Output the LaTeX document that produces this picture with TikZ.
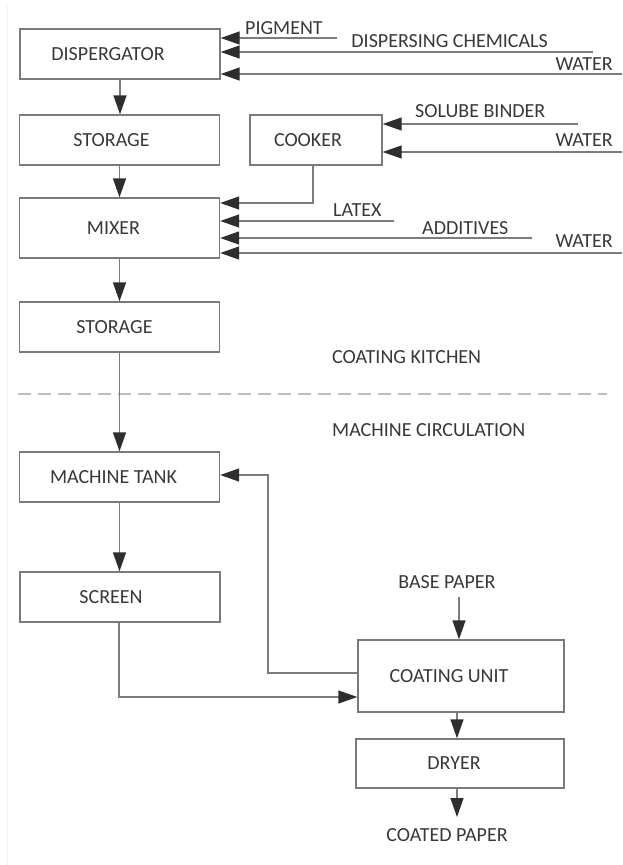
\documentclass[tikz,border=0pt]{standalone}
\usepackage{fontspec}
\setmainfont{Carlito}
\usetikzlibrary{arrows.meta}
\definecolor{linec}{HTML}{7C7C7C}
\definecolor{boxc}{HTML}{7A7A7A}
\definecolor{tipc}{HTML}{2E2E2E}
\definecolor{textc}{HTML}{383838}
\definecolor{dashc}{HTML}{BDBDBD}
\newcommand\shl[2]{\hspace*{-#1}#2}
\tikzset{
  box/.style={draw=boxc, line width=1.4pt, rectangle, inner sep=0pt, text=textc,
    font=\fontsize{20}{24}\selectfont},
  lbl/.style={inner sep=0pt, text=textc, font=\fontsize{20}{24}\selectfont},
  flow/.style={draw=linec, line width=1.4pt, -{Triangle[length=19pt,width=13pt,color=tipc]}},
}
\begin{document}
\begin{tikzpicture}[x=1pt,y=-1pt]
\useasboundingbox (0,0) rectangle (622,865);
\draw[gray!12, line width=1pt] (7,5) -- (7,865);

% boxes
\node[box, minimum width=200pt, minimum height=50pt] (disp) at (120,54) {\shl{24pt}{DISPERGATOR}};
\node[box, minimum width=200pt, minimum height=50pt] (stor1) at (119.5,140) {\shl{16pt}{STORAGE}};
\node[box, minimum width=132pt, minimum height=50pt] (cook) at (316,140) {\shl{16pt}{COOKER}};
\node[box, minimum width=200pt, minimum height=60pt] (mixer) at (119.5,228) {\shl{12pt}{MIXER}};
\node[box, minimum width=200pt, minimum height=50pt] (stor2) at (119.5,327) {\shl{10pt}{STORAGE}};
\node[box, minimum width=200pt, minimum height=50pt] (tank) at (119.5,477) {\shl{12pt}{MACHINE TANK}};
\node[box, minimum width=200pt, minimum height=50pt] (screen) at (120,597) {\shl{18pt}{SCREEN}};
\node[box, minimum width=206pt, minimum height=72pt] (coat) at (461,676) {\shl{24pt}{COATING UNIT}};
\node[box, minimum width=208pt, minimum height=49pt] (dryer) at (460,763.5) {\shl{12pt}{DRYER}};

% labels
\node[lbl, anchor=west] (pig) at (245,28.5) {PIGMENT};
\node[lbl, anchor=east] (dch) at (548,41) {DISPERSING CHEMICALS};
\node[lbl, anchor=east] (w1) at (613,64) {WATER};
\node[lbl, anchor=west] (sb) at (415,111.5) {SOLUBE BINDER};
\node[lbl, anchor=east] (w2) at (613,140) {WATER};
\node[lbl, anchor=west] (lat) at (333,210) {LATEX};
\node[lbl, anchor=west] (add) at (422,228) {ADDITIVES};
\node[lbl, anchor=east] (w3) at (613,241.5) {WATER};
\node[lbl, anchor=west] (ck) at (332,357) {COATING KITCHEN};
\node[lbl, anchor=west] (mc) at (332,430) {MACHINE CIRCULATION};
\node[lbl] (base) at (447,582) {BASE PAPER};
\node[lbl] (coated) at (447,835) {COATED PAPER};

% section divider
\coordinate (dl) at (18,394);
\coordinate (dr) at (607,394);
\draw[dashc, line width=2.6pt, dash pattern=on 13pt off 7pt] (dl) -- (dr);

% inputs to dispergator
\coordinate (pigS) at (337,38);
\coordinate (dchS) at (593,52);
\coordinate (w1S) at (622,74);
\draw[flow] (pigS) -- (disp.east |- pigS);
\draw[flow] (dchS) -- (disp.east |- dchS);
\draw[flow] (w1S) -- (disp.east |- w1S);

% inputs to cooker
\coordinate (sbS) at (578,124);
\coordinate (w2S) at (622,152);
\draw[flow] (sbS) -- (cook.east |- sbS);
\draw[flow] (w2S) -- (cook.east |- w2S);

% inputs to mixer
\coordinate (ckT) at (313,203);
\draw[flow] (cook.south -| ckT) -- (ckT) -- (mixer.east |- ckT);
\coordinate (latS) at (394,221);
\coordinate (addS) at (532,238);
\coordinate (w3S) at (622,253);
\draw[flow] (latS) -- (mixer.east |- latS);
\draw[flow] (addS) -- (mixer.east |- addS);
\draw[flow] (w3S) -- (mixer.east |- w3S);

% main chain
\draw[flow] (disp.south) -- (disp.south |- stor1.north);
\draw[flow] (stor1.south) -- (stor1.south |- mixer.north);
\draw[flow] (mixer.south) -- (mixer.south |- stor2.north);
\draw[flow] (stor2.south) -- (stor2.south |- tank.north);
\draw[flow] (tank.south) -- (tank.south |- screen.north);

% screen to coating unit
\coordinate (scT) at (119,697);
\draw[flow] (screen.south -| scT) -- (scT) -- (coat.west |- scT);

% return from coating unit to machine tank
\coordinate (fb1) at (268,673);
\coordinate (fb2) at (268,475);
\draw[flow] (coat.west |- fb1) -- (fb1) -- (fb2) -- (tank.east |- fb2);

% base paper
\coordinate (bpS) at (459,597);
\draw[flow] (bpS) -- (coat.north -| bpS);

% coating unit to dryer to coated paper
\coordinate (cdx) at (457,0);
\draw[flow] (coat.south -| cdx) -- (dryer.north -| cdx);
\coordinate (cpE) at (457,817);
\draw[flow] (dryer.south -| cpE) -- (cpE);
\end{tikzpicture}
\end{document}
